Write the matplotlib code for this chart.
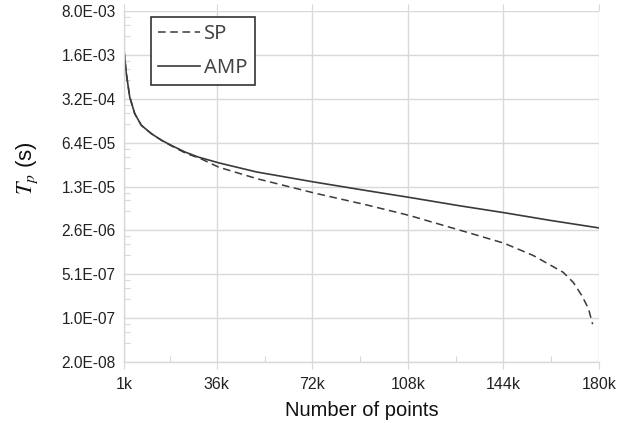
import matplotlib.pyplot as plt
from matplotlib.ticker import FixedLocator, NullFormatter

plt.rcParams['mathtext.fontset'] = 'stix'

# x in thousands of points
amp_x = [1, 1.87, 3.15, 5.03, 7.52, 11.3, 15.1, 18.8, 23.9, 28.9, 36.8, 51.0, 72.6, 92.5,
         108.4, 127.6, 144.2, 161.5, 180]
amp_y = [1.91e-3, 8.1e-4, 3.43e-4, 1.86e-4, 1.21e-4, 8.9e-5, 7.0e-5, 5.8e-5, 4.55e-5, 3.78e-5,
         3.04e-5, 2.18e-5, 1.51e-5, 1.10e-5, 8.6e-6, 6.3e-6, 4.9e-6, 3.7e-6, 2.8e-6]

sp_x = [1, 1.87, 3.15, 5.03, 7.52, 11.3, 15.1, 18.8, 24.5, 29.6, 36.8, 51.0, 72.6, 92.5,
        108.4, 130.1, 144.2, 155.2, 166.5, 170.3, 173.5, 176.0, 177.6]
sp_y = [1.91e-3, 8.1e-4, 3.43e-4, 1.86e-4, 1.21e-4, 8.9e-5, 7.0e-5, 5.7e-5, 4.29e-5, 3.6e-5,
        2.59e-5, 1.71e-5, 1.01e-5, 6.5e-6, 4.44e-6, 2.4e-6, 1.6e-6, 1.02e-6, 5.5e-7, 3.8e-7,
        2.35e-7, 1.46e-7, 8.2e-8]

x_ticks = [1, 36, 72, 108, 144, 180]
x_labels = ['1k', '36k', '72k', '108k', '144k', '180k']
y_ticks = [2.048e-8, 1.024e-7, 5.12e-7, 2.56e-6, 1.28e-5, 6.4e-5, 3.2e-4, 1.6e-3, 8.0e-3]
y_labels = ['2.0E-08', '1.0E-07', '5.1E-07', '2.6E-06', '1.3E-05', '6.4E-05', '3.2E-04', '1.6E-03', '8.0E-03']

grid_c = '#d9d9d9'
line_c = '#3a3a3a'
text_c = '#222222'

fig = plt.figure(figsize=(6.33, 4.23), dpi=100)
ax = fig.add_axes([124 / 633, 1 - 362 / 423, 475 / 633, 351 / 423])

ax.plot(sp_x, sp_y, color=line_c, lw=1.1, dashes=(5, 3), label='SP')
ax.plot(amp_x, amp_y, color=line_c, lw=1.2, label='AMP')

ax.set_yscale('log')
ax.set_xlim(1, 180)
ax.set_ylim(y_ticks[0], y_ticks[-1])

ax.set_xticks(x_ticks)
ax.set_xticklabels(x_labels, fontfamily='Liberation Sans', fontsize=11.5, color=text_c)
ax.yaxis.set_major_locator(FixedLocator(y_ticks))
ax.set_yticklabels(y_labels, fontfamily='Liberation Sans', fontsize=11.2, color=text_c)

minor_y = [t * s for t in y_ticks[:-1] for s in (2, 3, 4)]
ax.yaxis.set_minor_locator(FixedLocator(minor_y))
ax.yaxis.set_minor_formatter(NullFormatter())
ax.xaxis.set_minor_locator(FixedLocator([18.5, 54, 90, 126, 162]))

ax.tick_params(axis='both', which='major', length=0, pad=6)
ax.tick_params(axis='x', which='major', top=True, direction='out', length=5, color=grid_c)
ax.tick_params(axis='y', which='minor', direction='in', length=4, color=grid_c, width=0.8)
ax.tick_params(axis='x', which='minor', direction='in', length=4, color=grid_c, width=0.8)

ax.grid(True, which='major', color=grid_c, lw=1.0)
ax.set_axisbelow(True)
for side in ['top', 'right']:
    ax.spines[side].set_visible(False)
for side in ['left', 'bottom']:
    ax.spines[side].set_color(grid_c)
    ax.spines[side].set_linewidth(1.0)

ax.set_xlabel('Number of points', fontfamily='Liberation Sans', fontsize=14.5, color='#111111', labelpad=6)
fig.text(27 / 633, 1 - 168 / 423, r'$T_p$ (s)', rotation=90, ha='center', va='center',
         fontfamily='Liberation Sans', fontsize=16, color='#111111')

leg = ax.legend(loc='upper left', bbox_to_anchor=(27 / 475, 1 - 6 / 351), borderaxespad=0,
                frameon=True, fancybox=False, edgecolor='#333333', framealpha=1.0,
                handlelength=2.1, handletextpad=0.2, borderpad=0.34, labelspacing=0.72,
                prop={'family': 'Noto Sans', 'size': 14.5})
leg.get_frame().set_linewidth(1.2)
for t in leg.get_texts():
    t.set_color('#444444')

fig.savefig('out.png', dpi=100)
